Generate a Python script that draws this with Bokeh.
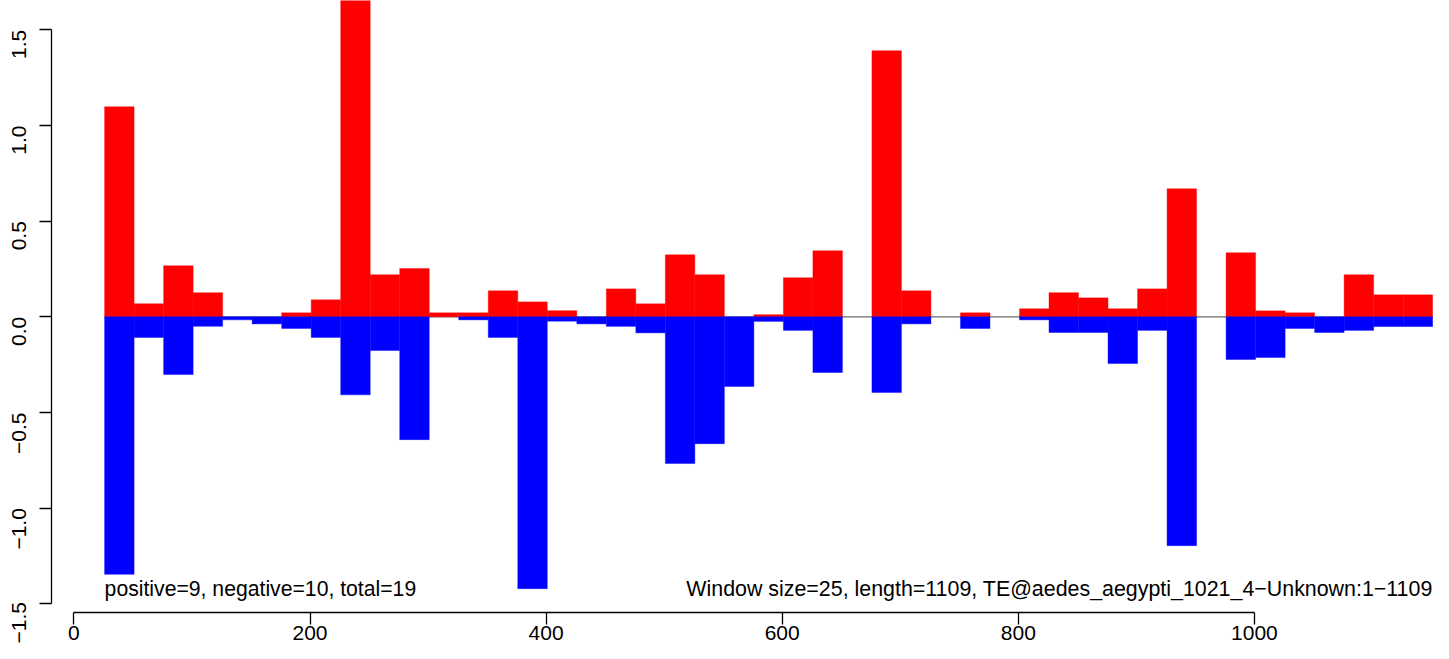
import math
from bokeh.plotting import figure
from bokeh.models import LinearAxis, FixedTicker, CustomJSTickFormatter, ColumnDataSource
from bokeh.core.properties import value
from bokeh.embed import file_html
from bokeh.resources import INLINE

# ---------------- data ----------------
window_size = 25
window_start = list(range(26, 1151, 25))  # 45 windows

positive = [1.098, 0.068, 0.267, 0.126, 0.0, 0.0, 0.021, 0.089, 1.72, 0.22,
            0.253, 0.021, 0.021, 0.136, 0.078, 0.032, 0.0, 0.146, 0.068, 0.324,
            0.22, 0.0, 0.011, 0.204, 0.345, 0.0, 1.391, 0.136, 0.0, 0.021,
            0.0, 0.042, 0.126, 0.099, 0.042, 0.146, 0.669, 0.0, 0.335, 0.031,
            0.021, 0.0, 0.22, 0.115, 0.115]

negative = [-1.346, -0.108, -0.302, -0.05, -0.016, -0.037, -0.061, -0.108, -0.408, -0.176,
            -0.642, 0.0, -0.016, -0.108, -1.421, -0.023, -0.037, -0.05, -0.084, -0.767,
            -0.663, -0.364, -0.024, -0.071, -0.291, 0.0, -0.396, -0.037, 0.0, -0.061,
            0.0, -0.016, -0.082, -0.082, -0.244, -0.071, -1.196, 0.0, -0.223, -0.213,
            -0.061, -0.082, -0.071, -0.051, -0.051]

x_ticks = [0, 200, 400, 600, 800, 1000]
y_ticks = [-1.5, -1.0, -0.5, 0.0, 0.5, 1.0, 1.5]

left_text = "positive=9, negative=10, total=19"
right_text = "Window size=25, length=1109, TE@aedes_aegypti_1021_4\u2212Unknown:1\u22121109"

# ---------------- figure ----------------
FONT = "Liberation Sans"
W, H = 1433, 643

p = figure(width=W, height=H, output_backend="svg", toolbar_location=None,
           x_range=(-62.18, 1151.7), y_range=(-1.7075, 1.6532),
           x_axis_type=None, y_axis_type=None, min_border=0)
p.outline_line_color = None
p.background_fill_color = "white"
p.border_fill_color = "white"

# zero line
x_end = window_start[-1] + window_size
p.line(x=[window_start[0], x_end], y=[0, 0], line_color="#6a6a6a", line_width=1.3)

# bars
pos_idx = [i for i in range(len(window_start)) if positive[i] > 0]
neg_idx = [i for i in range(len(window_start)) if negative[i] < 0]

pos_src = ColumnDataSource(dict(
    left=[window_start[i] for i in pos_idx],
    right=[window_start[i] + window_size for i in pos_idx],
    top=[positive[i] for i in pos_idx],
    bottom=[0.0 for _ in pos_idx]))
neg_src = ColumnDataSource(dict(
    left=[window_start[i] for i in neg_idx],
    right=[window_start[i] + window_size for i in neg_idx],
    top=[0.0 for _ in neg_idx],
    bottom=[negative[i] for i in neg_idx]))

p.quad(left="left", right="right", top="top", bottom="bottom", source=pos_src,
       fill_color="#FF0000", line_color="#FF0000", line_width=0.4)
p.quad(left="left", right="right", top="top", bottom="bottom", source=neg_src,
       fill_color="#0000FF", line_color="#0000FF", line_width=0.4)

# annotation texts
y_min = min(negative)
p.text(x=[window_start[0]], y=[y_min], text=[left_text],
       text_font=value(FONT), text_font_size=value("21.2px"), text_color="black",
       text_align="left", text_baseline="alphabetic")
p.text(x=[x_end], y=[y_min], text=[right_text],
       text_font=value(FONT), text_font_size=value("21.4px"), text_color="black",
       text_align="right", text_baseline="alphabetic")

# axes (R style: line only between first and last tick)
common = dict(major_tick_out=12, major_tick_in=0, minor_tick_out=0, minor_tick_in=0,
              major_label_text_font=FONT, major_label_text_font_size="21px",
              major_label_text_color="black", axis_line_color="black",
              axis_line_width=1.3, major_tick_line_color="black",
              major_tick_line_width=1.3)

yaxis = LinearAxis(fixed_location=-19.23, bounds=(-1.5, 1.5),
                   ticker=FixedTicker(ticks=y_ticks, minor_ticks=[]),
                   formatter=CustomJSTickFormatter(code="return tick.toFixed(1).replace('-', '\u2212');"),
                   major_label_orientation=math.pi / 2, major_label_standoff=20, **common)
xaxis = LinearAxis(fixed_location=-1.544, bounds=(0, 1000),
                   ticker=FixedTicker(ticks=x_ticks, minor_ticks=[]),
                   formatter=CustomJSTickFormatter(code="return tick.toFixed(0);"),
                   major_label_standoff=2, **common)
p.add_layout(yaxis, "left")
p.add_layout(xaxis, "below")

open("out.html", "w").write(file_html(p, INLINE))
